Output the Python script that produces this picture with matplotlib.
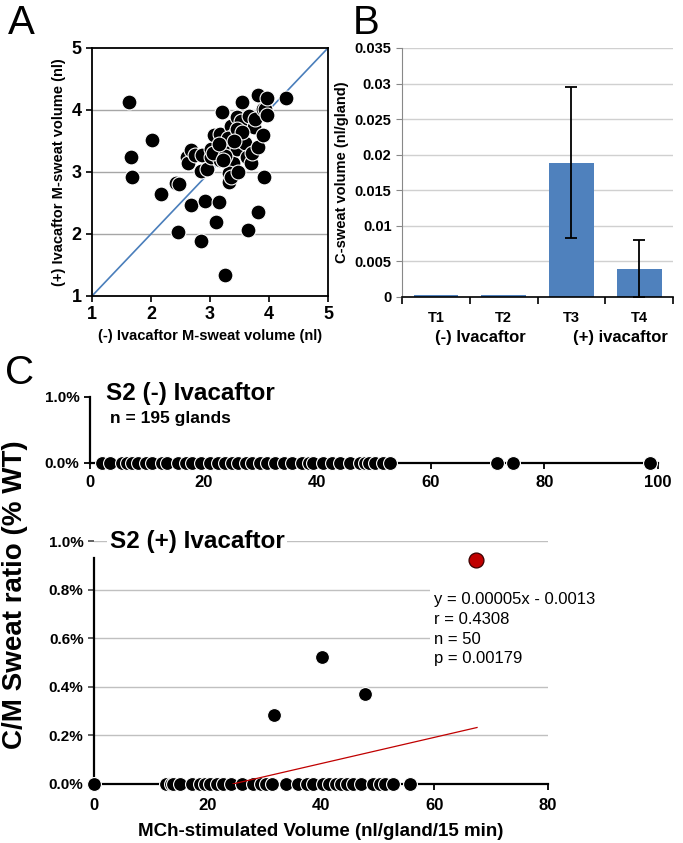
import numpy as np
import matplotlib
matplotlib.use("Agg")
import matplotlib.pyplot as plt
from matplotlib.ticker import FuncFormatter

plt.rcParams['font.family'] = ['Liberation Sans', 'DejaVu Sans']

# ---- data ----
# panel A: M-sweat volume without / with ivacaftor (nl)
a_minus = [1.62, 1.66, 1.68, 2.01, 2.17, 2.42, 2.48, 2.46, 2.68, 2.84, 2.91, 3.16, 3.11, 3.25,
           3.65, 3.81, 3.91, 2.61, 2.62, 2.68, 2.75, 2.86, 2.85, 2.95, 3.01, 3.02, 3.07, 3.17,
           3.20, 3.17, 3.24, 3.28, 3.34, 3.37, 3.36, 3.39, 3.33, 3.33, 3.36, 3.41, 3.46, 3.47,
           3.46, 3.52, 3.54, 3.52, 3.51, 3.59, 3.62, 3.66, 3.69, 3.72, 3.74, 3.76, 3.81, 3.82,
           3.90, 3.90, 3.94, 3.96, 3.96, 4.28, 3.05, 3.25, 3.30, 3.15, 3.45, 3.55, 3.22, 3.40]
a_plus = [4.13, 3.24, 2.92, 3.51, 2.64, 2.82, 2.81, 2.03, 2.47, 1.88, 2.53, 2.52, 2.20, 1.34,
          2.06, 2.36, 2.92, 3.24, 3.15, 3.36, 3.28, 3.27, 3.02, 3.04, 3.24, 3.37, 3.60, 3.61,
          3.97, 3.19, 3.41, 3.30, 3.46, 3.57, 3.74, 3.14, 2.98, 2.84, 2.92, 3.59, 3.37, 3.00,
          3.89, 3.83, 4.13, 3.62, 3.51, 3.46, 3.24, 3.90, 3.14, 3.30, 3.73, 3.85, 3.41, 4.24,
          3.60, 4.02, 4.02, 4.19, 3.92, 4.20, 3.30, 3.25, 3.55, 3.45, 3.70, 3.65, 3.20, 3.50]
identity = [1, 5]

# panel B: C-sweat volume per gland
b_labels = ['T1', 'T2', 'T3', 'T4']
b_values = [0.0003, 0.0003, 0.0189, 0.0040]
b_errors = [0.0, 0.0, 0.0106, 0.0040]
b_ticks = [0, 0.005, 0.01, 0.015, 0.02, 0.025, 0.03, 0.035]
b_ticklabels = ['0', '0.005', '0.01', '0.015', '0.02', '0.025', '0.03', '0.035']
b_groups = ['(-) Ivacaftor', '(+) ivacaftor']

# panel C top: S2 (-) ivacaftor, all ratios zero
c1_volume = [2.1, 3.5, 5.6, 6.5, 7.4, 8.5, 9.8, 11.0, 12.6, 13.5, 15.5, 16.9, 18.0, 19.5,
             21.1, 22.5, 23.7, 25.0, 26.0, 27.5, 28.6, 30.0, 31.2, 32.5, 34.2, 35.5, 37.3,
             38.5, 39.3, 41.0, 42.6, 44.0, 45.7, 47.5, 48.5, 49.2, 50.1, 51.5, 52.8,
             71.7, 74.5, 98.6]
c1_ratio = [0.0] * len(c1_volume)

# panel C bottom: S2 (+) ivacaftor (ratio in % WT)
c2_volume = [0.0, 12.7, 13.5, 14.0, 15.1, 17.2, 18.7, 19.5, 20.4, 21.6, 22.8, 24.2, 26.0,
             28.1, 29.5, 30.4, 31.3, 33.9, 36.0, 37.5, 38.6, 40.4, 41.5, 42.7, 43.6, 44.5,
             45.7, 47.0, 49.2, 50.4, 51.2, 52.7, 55.6]
c2_ratio = [0.0] * len(c2_volume)
c2_pos_volume = [31.8, 40.2, 47.8]
c2_pos_ratio = [0.282, 0.524, 0.369]
c2_max_volume = [67.3]
c2_max_ratio = [0.92]
fit_slope = 0.0054      # % per nl
fit_intercept = -0.132  # %
fit_range = [24.5, 67.5]
fit_text = 'y = 0.00005x - 0.0013\nr = 0.4308\nn = 50\np = 0.00179'

# ---- figure ----
fig = plt.figure(figsize=(6.83, 8.43), dpi=100)

# panel A
axA = fig.add_axes([0.1347, 0.6489, 0.3455, 0.2942])
axA.set_xlim(1, 5)
axA.set_ylim(1, 5)
axA.set_yticks([1, 2, 3, 4, 5])
axA.set_xticks([1, 2, 3, 4, 5])
for y in [2, 3, 4]:
    axA.axhline(y, color='#a6a6a6', lw=1, zorder=0)
axA.plot(identity, identity, color='#4a7ebb', lw=1.2, zorder=1)
axA.scatter(a_minus, a_plus, s=115, color='black', edgecolors='white', linewidths=0.8, zorder=3)
for s in axA.spines.values():
    s.set_linewidth(1.3)
axA.tick_params(labelsize=13, width=1.2, length=4)
for lab in axA.get_xticklabels() + axA.get_yticklabels():
    lab.set_fontweight('bold')
axA.set_xlabel('(-) Ivacaftor M-sweat volume (nl)', fontsize=10.5, fontweight='bold', labelpad=4)
axA.set_ylabel('(+) Ivacaftor M-sweat volume (nl)', fontsize=10.5, fontweight='bold', labelpad=4)

# panel B
axB = fig.add_axes([0.5886, 0.6477, 0.3968, 0.2954])
xb = np.arange(len(b_labels))
axB.bar(xb, b_values, width=0.66, color='#4f81bd', zorder=2)
axB.errorbar(xb[2:], b_values[2:], yerr=b_errors[2:], fmt='none', ecolor='black',
             elinewidth=1.3, capsize=4, capthick=1.3, zorder=3)
axB.set_xlim(-0.5, 3.5)
axB.set_ylim(0, 0.035)
axB.set_yticks(b_ticks)
axB.set_yticklabels(b_ticklabels)
axB.yaxis.grid(True, color='#d0d0d0', lw=1)
axB.set_axisbelow(True)
axB.spines['top'].set_visible(False)
axB.spines['right'].set_visible(False)
axB.spines['left'].set_color('#888888')
axB.spines['bottom'].set_linewidth(1.2)
axB.set_xticks(xb)
axB.set_xticklabels(b_labels)
axB.set_xticks(np.arange(-0.5, 4, 1), minor=True)
axB.tick_params(axis='x', which='major', length=0, pad=10, labelsize=10.5)
axB.tick_params(axis='x', which='minor', length=5, width=1.2)
axB.tick_params(axis='y', labelsize=10.5, length=4, color='#888888')
for lab in axB.get_xticklabels() + axB.get_yticklabels():
    lab.set_fontweight('bold')
axB.set_ylabel('C-sweat volume (nl/gland)', fontsize=10.5, fontweight='bold', labelpad=4)
axB.text(0.65, -0.162, b_groups[0], transform=axB.get_xaxis_transform(), ha='center',
         va='center', fontsize=12, fontweight='bold')
axB.text(2.72, -0.162, b_groups[1], transform=axB.get_xaxis_transform(), ha='center',
         va='center', fontsize=12, fontweight='bold')

pct = FuncFormatter(lambda v, p: '%.1f%%' % v)

# panel C top
axC1 = fig.add_axes([0.1318, 0.4508, 0.8316, 0.0783])
axC1.scatter(c1_volume, c1_ratio, s=100, color='black', edgecolors='white', linewidths=0.8,
             zorder=3, clip_on=False)
axC1.set_xlim(0, 100)
axC1.set_ylim(0, 1.0)
axC1.set_xticks([0, 20, 40, 60, 80, 100])
axC1.set_yticks([0, 1.0])
axC1.yaxis.set_major_formatter(pct)
axC1.spines['top'].set_visible(False)
axC1.spines['right'].set_visible(False)
for s in ['left', 'bottom']:
    axC1.spines[s].set_linewidth(1.6)
axC1.tick_params(width=1.3, length=4)
axC1.tick_params(axis='x', labelsize=12, pad=5)
axC1.tick_params(axis='y', labelsize=11)
for lab in axC1.get_xticklabels() + axC1.get_yticklabels():
    lab.set_fontweight('bold')
axC1.text(2.8, 1.06, 'S2 (-) Ivacaftor', fontsize=17.5, fontweight='bold',
          transform=axC1.get_xaxis_transform(), va='center', ha='left')
axC1.text(3.5, 0.667, 'n = 195 glands', fontsize=12.5, fontweight='bold',
          transform=axC1.get_xaxis_transform(), va='center', ha='left')

# panel C bottom
axC2 = fig.add_axes([0.1376, 0.0700, 0.6647, 0.2882])
axC2.set_xlim(0, 80)
axC2.set_ylim(0, 1.0)
axC2.set_xticks([0, 20, 40, 60, 80])
axC2.set_yticks([0, 0.2, 0.4, 0.6, 0.8, 1.0])
axC2.yaxis.set_major_formatter(pct)
axC2.yaxis.grid(True, color='#c0c0c0', lw=1)
axC2.set_axisbelow(True)
axC2.spines['top'].set_visible(False)
axC2.spines['right'].set_visible(False)
axC2.spines['left'].set_bounds(0, 0.93)
for s in ['left', 'bottom']:
    axC2.spines[s].set_linewidth(1.6)
fx = np.array(fit_range)
axC2.plot(fx, fit_slope * fx + fit_intercept, color='#c00000', lw=0.9, zorder=4)
axC2.scatter(c2_volume, c2_ratio, s=100, color='black', edgecolors='white', linewidths=0.8,
             zorder=3, clip_on=False)
axC2.scatter(c2_pos_volume, c2_pos_ratio, s=100, color='black', edgecolors='white',
             linewidths=0.8, zorder=3)
axC2.scatter(c2_max_volume, c2_max_ratio, s=115, color='#c00000', edgecolors='#3a0000',
             linewidths=0.9, zorder=3)
axC2.tick_params(width=1.3, length=4)
axC2.tick_params(axis='x', labelsize=12, pad=6)
axC2.tick_params(axis='y', labelsize=11, color='#555555')
for lab in axC2.get_xticklabels() + axC2.get_yticklabels():
    lab.set_fontweight('bold')
axC2.text(2.8, 1.0, 'S2 (+) Ivacaftor', fontsize=17.5, fontweight='bold',
          va='center', ha='left', zorder=5,
          bbox=dict(facecolor='white', edgecolor='none', pad=2))
axC2.text(60, 0.79, fit_text, fontsize=12, va='top', ha='left', linespacing=1.4,
          zorder=5, bbox=dict(facecolor='white', edgecolor='none', pad=3))
axC2.set_xlabel('MCh-stimulated Volume (nl/gland/15 min)', fontsize=13.5, fontweight='bold',
                labelpad=7)

fig.text(0.022, 1 - 595 / 843, 'C/M Sweat ratio (% WT)', rotation=90, fontsize=20,
         fontweight='bold', ha='center', va='center')

# panel letters
fig.text(0.031, 1 - 23 / 843, 'A', fontsize=29, ha='center', va='center')
fig.text(0.536, 1 - 23 / 843, 'B', fontsize=29, ha='center', va='center')
fig.text(0.029, 1 - 373 / 843, 'C', fontsize=29, ha='center', va='center')

fig.savefig('out.png', dpi=100)
